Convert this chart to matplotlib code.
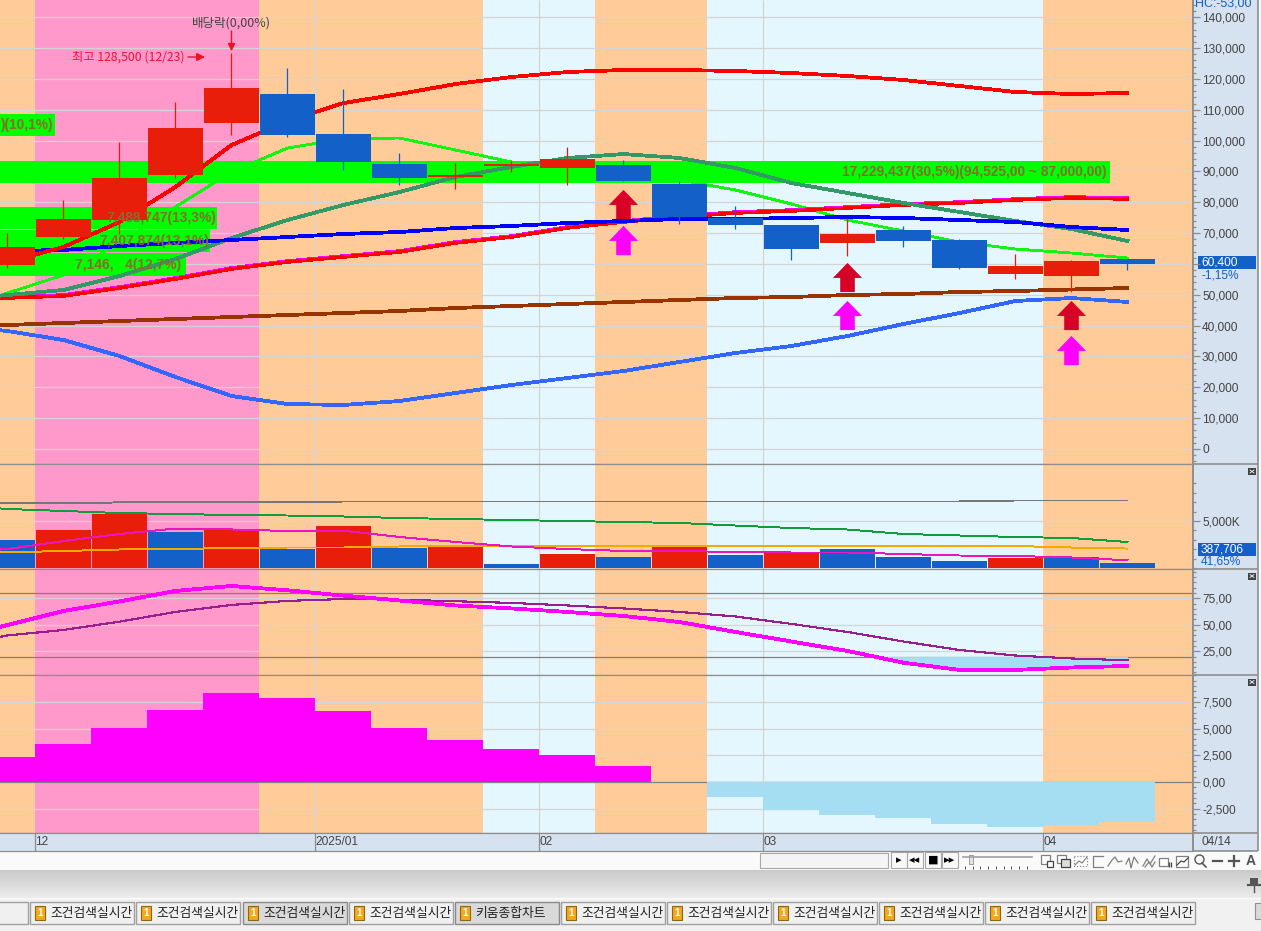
"""Stock chart screen: candles, volume, oscillator and histogram panels."""

import matplotlib

matplotlib.use("Agg")
import matplotlib.pyplot as plt
import numpy as np
from matplotlib.patches import Rectangle
from matplotlib.path import Path
from matplotlib.ticker import MultipleLocator

W, H = 1261, 931

# candles, one per week
opens = [59660, 68740, 74250, 88840, 105700, 115110, 102140, 92410, 88200, 91760, 91110, 92090,
         85930, 75000, 72630, 66800, 71010, 67770, 56740, 56100, 61610]
closes = [65500, 74580, 87870, 104080, 117050, 101810, 93060, 87870, 88840, 92410, 94030, 86900,
          75230, 72630, 64850, 69710, 67440, 58690, 59340, 60960, 59990]
highs = [70040, 80740, 99540, 112510, 128500, 123540, 116730, 95980, 92740, 93380, 97920, 93710,
         86900, 78790, 72630, 74900, 72310, 68090, 63230, 61280, 61610]
lows = [58690, 68090, 69710, 87870, 101810, 101170, 90460, 85600, 84300, 89820, 85600, 86900,
        72960, 71340, 61280, 62580, 65500, 58370, 55120, 50910, 58040]

# price overlays, the ones with 22 values start one week left of the first candle
upper_red = [60630, 65500, 73600, 84950, 98570, 106350, 112190, 115110, 118350, 120620, 122240,
             122890, 122890, 122570, 121920, 120950, 119650, 117700, 115760, 115110, 115430]
thin_green = [45070, 50580, 56420, 66800, 78470, 89820, 97600, 100520, 100840, 96950, 93060, 91110,
              89490, 87220, 83980, 79440, 74250, 70690, 67120, 64850, 63550, 61930]
teal_ma = [48310, 49930, 51560, 56090, 61610, 68420, 74250, 79120, 83330, 88200, 91440, 94360,
           95650, 94360, 91110, 86250, 83010, 79770, 76850, 73930, 71340, 67440]
blue_ma = [64200, 64530, 65820, 66800, 67770, 68740, 69710, 70360, 71660, 72310, 73280, 73930,
           74580, 74580, 74900, 75230, 74900, 74250, 73600, 71980, 71010]
lower_red = [48640, 48960, 49610, 52200, 55120, 58370, 60630, 62260, 63880, 66800, 68740, 71660,
             73600, 75230, 76520, 77170, 78140, 79120, 79760, 80740, 81390, 81060]
lower_magenta = [48960, 49280, 49930, 52520, 55440, 58690, 60950, 62580, 64200, 67120, 69060, 71980,
                 73920, 75550, 76840, 77490, 78460, 79440, 80080, 81060, 81710, 81380]
brown_ma = [39880, 40210, 40860, 41500, 42150, 42800, 43450, 44100, 44750, 45720, 46370, 47020,
            47660, 48310, 48960, 49290, 49930, 50260, 50910, 51230, 51720, 52200]
low_blue = [40210, 38260, 35340, 30160, 23350, 17190, 14590, 14270, 15560, 18160, 20750, 23020,
            25290, 28210, 31130, 33400, 36640, 40530, 44100, 47990, 48960, 47670]

# green price-volume bands: low price, high price, label
band_lows = [86250, 71340, 63880, 56100, 101490]
band_highs = [93380, 78470, 71010, 63550, 108620]
band_texts = ["17,229,437(30,5%)(94,525,00 ~ 87,000,00)", "7,488,747(13,3%)", "7,407,874(13,1%)",
              "7,146,   4(12,7%)", ")(10,1%)"]

# signal arrows: candle index, price
red_arrows_x = [11, 15, 19]
red_arrows_y = [79600, 55610, 43610]
pink_arrows_y = [67930, 43610, 31940]

# volume in thousands
volume = [2980, 4040, 5780, 3830, 4075, 2020, 4470, 2130, 2230, 425, 1490, 1170, 2230, 1380, 1600,
          2020, 1170, 745, 1060, 1140, 560]
volume_up = [0, 1, 1, 0, 1, 0, 1, 0, 1, 0, 1, 0, 1, 0, 1, 0, 0, 0, 1, 0, 0]
vol_gray = [6884, 6884, 6884, 6980, 6980, 6980, 6980, 7076, 7076, 7076, 7076, 7076, 7076, 7076,
            7076, 7076, 7076, 7076, 7076, 7182, 7182, 7182]
vol_green = [6700, 6280, 6065, 5850, 5745, 5640, 5585, 5480, 5320, 5215, 5105, 5000, 4895, 4790,
             4520, 4255, 4095, 3620, 3460, 3300, 3190, 2765]
vol_orange = [1600, 1670, 1810, 1970, 2020, 2130, 2180, 2180, 2290, 2290, 2290, 2290, 2340, 2340,
              2370, 2390, 2390, 2390, 2390, 2340, 2180, 2070]
vol_pink = [1600, 2020, 2870, 3620, 4200, 4100, 3940, 3970, 3300, 2770, 2290, 2020, 1810, 1810,
            1700, 1650, 1650, 1490, 1330, 1280, 1120, 820]

# oscillator
osc_fast = [35.7, 49.8, 63.0, 72.0, 81.9, 86.6, 82.5, 77.5, 72.9, 68.2, 65.4, 62.1, 58.3, 52.6,
            43.2, 34.2, 25.3, 14.2, 7.4, 7.4, 9.7, 11.1]
osc_slow = [30.0, 39.9, 45.1, 52.9, 62.1, 68.7, 72.5, 74.3, 73.6, 72.2, 70.6, 68.2, 65.4, 62.1,
            57.8, 50.8, 43.2, 34.2, 26.2, 21.0, 18.2, 16.5]

# histogram
hist = [2340, 3600, 5100, 6740, 8330, 7860, 6650, 5100, 3930, 3090, 2530, 1500, 0, -1400, -2620,
        -3090, -3370, -3930, -4210, -4025, -3740]

# background bands, edges in candle index
band_edges = [-1, 0.5, 4.5, 8.5, 10.5, 12.5, 18.5, 22]
band_colors = ["#FFCC99", "#FF99CC", "#FFCC99", "#E4F7FF", "#FFCC99", "#E4F7FF", "#FFCC99"]

date_ticks = [0.5, 5.5, 9.5, 13.5, 18.5]
date_labels = ["12", "2025/01", "02", "03", "04"]
price_ticks = list(range(0, 140001, 10000))
osc_ticks = [25, 50, 75]
osc_labels = ["25,00", "50,00", "75,00"]
hist_ticks = [-2500, 0, 2500, 5000, 7500]
hist_labels = ["-2,500", "0,00", "2,500", "5,000", "7,500"]
tab_starts = [30, 136, 243, 349, 455, 561, 667, 773, 879, 985, 1091]
tab_names = ["조건검색실시간"] * 4 + ["키움종합차트"] + ["조건검색실시간"] * 6

RED = "#E81E0A"
BLUE = "#1260C8"
GRID = "#D4D4D4"
EDGE = "#8E8E8E"
TXT = "#444444"
FONT = ["Liberation Sans", "Noto Sans CJK KR", "DejaVu Sans"]
KFONT = ["Noto Sans CJK KR", "DejaVu Sans"]
LABEL = "#8C6A2F"

plt.rcParams["font.family"] = FONT
plt.rcParams["font.size"] = 8.6

fig = plt.figure(figsize=(W / 100, H / 100), dpi=100, facecolor="#FAFAFA")


def px_x(px):
    # candle index at a pixel column of the chart
    return (px - 7.5) / 56


# window chrome in pixel coordinates, behind the panels
chrome = fig.add_axes([0, 0, 1, 1], zorder=-1)
chrome.set_xlim(0, W)
chrome.set_ylim(H, 0)
chrome.axis("off")
chrome.add_patch(Rectangle((1193, 0), 65, 851, fc="#D6E2F0", ec="none"))
chrome.imshow(np.linspace(0, 1, 28)[:, None], extent=(0, W, 898, 870), cmap="gray", vmin=-6, vmax=1.6,
              aspect="auto", zorder=1)
chrome.set_xlim(0, W)
chrome.set_ylim(H, 0)
chrome.add_patch(Rectangle((0, 898), W, 33, fc="#F1F1F1", ec="none"))
chrome.hlines([464, 569, 675, 833, 851], 0, 1258, color=EDGE, lw=1.2)
chrome.vlines(1258, 0, 851, color=EDGE, lw=1.2)
chrome.hlines(897.5, 0, W, color="#FAFAFA", lw=1)

chrome.text(1195, 3, "HC:-53,00", color=BLUE, fontsize=9, va="center")
chrome.add_patch(Rectangle((1198, 256), 58, 13, fc=BLUE, ec="none"))
chrome.text(1201, 262.5, "60,400", color="white", va="center")
chrome.text(1201, 275, "-1,15%", color=BLUE, va="center")
chrome.add_patch(Rectangle((1198, 543), 58, 13, fc=BLUE, ec="none"))
chrome.text(1201, 549.5, "387,706", color="white", va="center")
chrome.text(1201, 562, "41,65%", color=BLUE, va="center")
chrome.text(1202, 842, "04/14", color=TXT, va="center")
for by in [471.5, 576, 682]:
    chrome.add_patch(Rectangle((1248, by - 3.5), 8, 7, fc="#404040", ec="none"))
    chrome.plot([1250, 1254], [by - 1.5, by + 1.5], color="white", lw=0.6)
    chrome.plot([1250, 1254], [by + 1.5, by - 1.5], color="white", lw=0.6)

# toolbar under the chart
chrome.add_patch(Rectangle((760, 853), 128, 15, fc="#F4F4F4", ec="#A8A8A8", lw=0.8))
for bx, glyph in zip([891, 907, 925, 942], ["▸", "◂◂", "■", "▸▸"]):
    chrome.add_patch(Rectangle((bx, 852), 16, 16, fc="#F8F8F8", ec="#A8A8A8", lw=0.8))
    chrome.text(bx + 8, 860, glyph, color="black", fontsize=8, ha="center", va="center",
                family="DejaVu Sans", fontweight="bold")
chrome.plot([963, 1032], [857, 857], color="#A0A0A0", lw=1.2)
chrome.add_patch(Rectangle((969, 855), 4, 9, fc="#E4E4E4", ec="#909090", lw=0.6))
chrome.vlines(np.arange(965, 1032, 7.7), 866, 869, color="#555555", lw=0.7)
ic = "#808080"
chrome.add_patch(Rectangle((1041, 855), 9, 9, fc="white", ec=ic, lw=0.9))
chrome.add_patch(Rectangle((1047, 861), 6, 6, fc="white", ec="#444444", lw=0.9))
chrome.add_patch(Rectangle((1057, 855), 9, 8, fc="white", ec=ic, lw=0.9))
chrome.add_patch(Rectangle((1061, 859), 9, 8, fc="#DDDDDD", ec="#444444", lw=0.9))
chrome.add_patch(Rectangle((1074, 856), 13, 10, fc="none", ec=ic, lw=0.8, ls=":"))
chrome.plot([1075, 1079, 1082, 1087], [865, 861, 863, 857], color=ic, lw=0.8)
chrome.plot([1103, 1093, 1093, 1103], [856, 856, 867, 867], color=ic, lw=0.9)
chrome.plot([1108, 1112, 1115, 1118, 1122], [866, 860, 857, 862, 861], color=ic, lw=0.9)
chrome.plot([1126, 1129, 1131, 1134, 1138], [864, 858, 868, 857, 863], color=ic, lw=0.9)
chrome.plot([1143, 1147, 1150, 1155], [866, 859, 864, 856], color=ic, lw=0.9)
chrome.plot([1145, 1149, 1152, 1155], [867, 862, 867, 862], color=ic, lw=0.9)
chrome.add_patch(Rectangle((1159, 858), 9, 8, fc="white", ec=ic, lw=0.9))
chrome.vlines([1169, 1171], 862, 867, color="#444444", lw=0.9)
chrome.add_patch(Rectangle((1176, 856), 12, 11, fc="white", ec=ic, lw=0.9))
chrome.plot([1177, 1181, 1184, 1188], [865, 861, 862, 858], color="#444444", lw=0.9)
chrome.plot([1199], [859], marker="o", ms=6.5, mfc="none", mec="#555555", mew=1)
chrome.plot([1202, 1206], [863, 867], color="#555555", lw=1.2)
chrome.plot([1213, 1222], [861, 861], color="#555555", lw=1.6)
chrome.plot([1229, 1239], [861, 861], color="#555555", lw=1.6)
chrome.plot([1234, 1234], [856, 866], color="#555555", lw=1.6)
chrome.text(1250.5, 861, "A", color="#555555", fontsize=10, ha="center", va="center", fontweight="bold")
chrome.add_patch(Rectangle((1250, 878), 8, 7, fc="#555555", ec="none"))
chrome.plot([1248, 1260], [885, 885], color="#555555", lw=1.6)
chrome.plot([1254, 1254], [885, 892], color="#555555", lw=1)

# tabs along the bottom
chrome.add_patch(Rectangle((-3, 902), 31, 22, fc="#F0F0F0", ec="#A0A0A0", lw=1))
for tx, name in zip(tab_starts, tab_names):
    active = tx in (243, 455)
    chrome.add_patch(Rectangle((tx, 902), 104, 22, fc="#D9D9D9" if active else "#F0F0F0",
                               ec="#8A8A8A" if active else "#A0A0A0", lw=1))
    chrome.add_patch(Rectangle((tx + 5, 906), 10, 14, fc="#F5A623", ec="#8B6914", lw=0.8))
    chrome.text(tx + 10, 913, "1", color="white", fontsize=7, ha="center", va="center", fontweight="bold")
    chrome.text(tx + 20, 913, name, color="#222222", fontsize=9.2, va="center", family=KFONT)
chrome.add_patch(Rectangle((1255, 903), 7, 16, fc="#DADADA", ec="#909090", lw=0.8))


def panel(top, bottom):
    ax = fig.add_axes([0, 1 - bottom / H, 1193 / W, (bottom - top) / H])
    ax.set_xlim(px_x(0), px_x(1193))
    for left, right, color in zip(band_edges[:-1], band_edges[1:], band_colors):
        ax.axvspan(left, right, color=color, lw=0, zorder=0)
    ax.vlines(date_ticks[1:4], 0, 1, transform=ax.get_xaxis_transform(), color=GRID, lw=0.9, zorder=1)
    ax.yaxis.tick_right()
    ax.tick_params(axis="x", bottom=False, labelbottom=False)
    ax.tick_params(axis="y", which="major", length=5, width=0.9, color=EDGE, labelcolor=TXT, pad=1.5)
    ax.tick_params(axis="y", which="minor", length=2, width=0.9, color=EDGE)
    ax.grid(axis="y", color=GRID, lw=0.9, zorder=1)
    ax.set_axisbelow(True)
    ax.spines["left"].set_visible(False)
    for side in ["top", "bottom"]:
        ax.spines[side].set_color(EDGE)
        ax.spines[side].set_linewidth(0.9)
    ax.spines["right"].set_color(EDGE)
    ax.spines["right"].set_linewidth(1.4)
    return ax


weeks = np.arange(21)
weeks_ext = np.arange(-1, 21)
bar_colors = [RED if c >= o else BLUE for o, c in zip(opens, closes)]

# price panel, the 60,000 label sits under the last-price tag
ax = panel(0, 464)
ax.spines["top"].set_visible(False)
ax.set_ylim(-4864, 145590)
ax.set_yticks(price_ticks, labels=["" if v == 60000 else f"{v:,}" for v in price_ticks])
ax.yaxis.set_minor_locator(MultipleLocator(2000))

ax.plot(weeks_ext, thin_green, color="#11F511", lw=1.3, aa=False, zorder=2)
band_ends = [1110, 217, 210, 186, 55]
for low, high, end in zip(band_lows, band_highs, band_ends):
    ax.fill_between([-1, px_x(end)], low, high, color="#00FF00", lw=0, zorder=3)

ax.plot(weeks_ext, lower_magenta, color="#FF00FF", lw=1.8, aa=False, zorder=4)
ax.plot(weeks_ext, lower_red, color="#FF0000", lw=1.8, aa=False, zorder=4)
ax.plot(weeks_ext, teal_ma, color="#339966", lw=2, aa=False, zorder=4)
ax.plot(weeks, blue_ma, color="#0000FF", lw=2, aa=False, zorder=4)
ax.plot(weeks, upper_red, color="#FF0000", lw=2, aa=False, zorder=4)
ax.plot(weeks_ext, brown_ma, color="#993300", lw=2, aa=False, zorder=4)
ax.plot(weeks_ext, low_blue, color="#3366FF", lw=2, aa=False, zorder=4)

ax.vlines(weeks, lows, highs, colors=bar_colors, lw=0.9, zorder=5)
ax.bar(weeks, np.abs(np.array(closes) - np.array(opens)), bottom=np.minimum(opens, closes), width=55 / 56,
       color=bar_colors, lw=0, aa=False, zorder=5)

arrow_verts = [(0, 1), (1, -0.03), (0.5, -0.03), (0.5, -1), (-0.5, -1), (-0.5, -0.03), (-1, -0.03), (0, 1)]
arrow = Path(arrow_verts)
ax.plot(red_arrows_x, red_arrows_y, ls="", marker=arrow, ms=21, mfc="#D80027", mec="none", zorder=6)
ax.plot(red_arrows_x, pink_arrows_y, ls="", marker=arrow, ms=21, mfc="#FF00FF", mec="none", zorder=6)

label_px = [842, 106, 99, 75, 0]
label_y = [89820, 74900, 67440, 59660, 105060]
for px, price, label in zip(label_px, label_y, band_texts):
    ax.text(px_x(px), price, label, color=LABEL, va="center", fontsize=9.9, fontweight="bold", zorder=7)

ax.text(px_x(72), 127100, "최고 128,500 (12/23)", color="#EE1133", va="center", family=KFONT,
        fontsize=8.8, zorder=7)
ax.annotate("", xy=(px_x(205), 127100), xytext=(px_x(188), 127100), zorder=7,
            arrowprops=dict(arrowstyle="-|>", color="#EE1122", lw=1, mutation_scale=12, shrinkA=0, shrinkB=0))
ax.text(px_x(231), 138100, "배당락(0,00%)", color=TXT, ha="center", va="center", family=KFONT,
        fontsize=9, zorder=7)
ax.annotate("", xy=(4, 129000), xytext=(4, 135500), zorder=7,
            arrowprops=dict(arrowstyle="-|>", color="#EE1122", lw=1, mutation_scale=11, shrinkA=0, shrinkB=0))

# volume panel
ax = panel(464, 569)
ax.set_ylim(-106, 11064)
ax.set_yticks([5000], labels=["5,000K"])
ax.set_yticks(range(0, 10000, 1000), minor=True)
vol_colors = [RED if up else BLUE for up in volume_up]
ax.bar(weeks, volume, width=55 / 56, color=vol_colors, lw=0, aa=False, zorder=3)
ax.plot(weeks_ext, vol_gray, color="#777777", lw=0.7, aa=False, zorder=4)
ax.plot(weeks_ext, vol_green, color="#0E9E3E", lw=0.7, aa=False, zorder=4)
ax.plot(weeks_ext, vol_orange, color="#F2A900", lw=0.7, aa=False, zorder=4)
ax.plot(weeks_ext, vol_pink, color="#EE14C0", lw=0.7, aa=False, zorder=4)

# oscillator panel
ax = panel(569, 675)
ax.set_ylim(2.6, 102.6)
ax.set_yticks(osc_ticks, labels=osc_labels)
ax.yaxis.set_minor_locator(MultipleLocator(5))
ax.axhline(80, color="#808080", lw=0.9, zorder=2)
ax.axhline(20, color="#808080", lw=0.9, zorder=2)
ax.fill_between(weeks_ext, osc_fast, 20, where=np.array(osc_fast) < 20, interpolate=True, color="#A5DDF3",
                lw=0, zorder=2)
ax.plot(weeks_ext, osc_slow, color="#991F8F", lw=0.8, aa=False, zorder=3)
ax.plot(weeks_ext, osc_fast, color="#FF00FF", lw=2, aa=False, zorder=3)

# histogram panel
ax = panel(675, 833)
ax.set_ylim(-4774, 10015)
ax.set_yticks(hist_ticks, labels=hist_labels)
ax.yaxis.set_minor_locator(MultipleLocator(500))
ax.axhline(0, color="#808080", lw=0.9, zorder=2)
hist_colors = ["#FF00FF" if v >= 0 else "#A5DDF3" for v in hist]
ax.bar(weeks, hist, width=1, color=hist_colors, lw=0, aa=False, zorder=3)

# date strip
ax = fig.add_axes([0, 1 - 851 / H, 1193 / W, 18 / H], facecolor="#D6E2F0")
ax.set_xlim(px_x(0), px_x(1193))
ax.set_ylim(0, 1)
ax.set_yticks([])
ax.set_xticks(date_ticks, labels=date_labels)
ax.tick_params(axis="x", direction="in", length=13, width=0.9, color=EDGE, labelcolor=TXT, pad=-10.5)
for label in ax.get_xticklabels():
    label.set_ha("left")
ax.spines["left"].set_visible(False)
for side in ["top", "bottom"]:
    ax.spines[side].set_color(EDGE)
    ax.spines[side].set_linewidth(0.9)
ax.spines["right"].set_color(EDGE)
ax.spines["right"].set_linewidth(1.4)

fig.savefig("out.png", dpi=100)
